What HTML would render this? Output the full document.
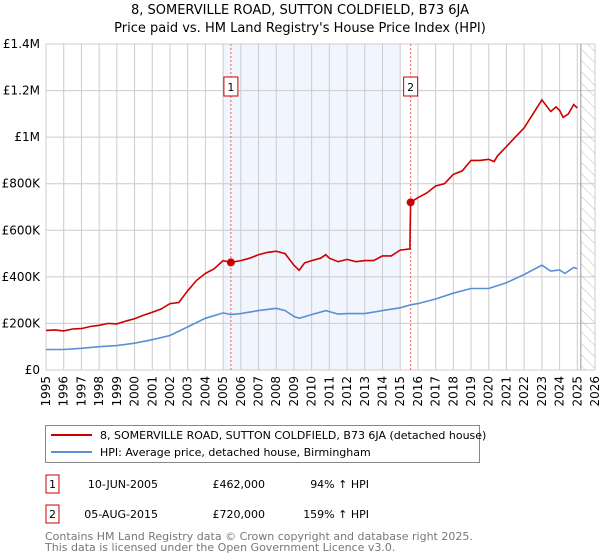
<!DOCTYPE html>
<html><head><meta charset="utf-8"><style>
body{margin:0;background:#fff;font-family:"Liberation Sans","DejaVu Sans",sans-serif;}
svg{display:block}
</style></head><body>
<svg id="c" width="600" height="560" xmlns="http://www.w3.org/2000/svg" font-family="DejaVu Sans, Liberation Sans, sans-serif">
<defs><pattern id="hatch" width="8" height="8" patternUnits="userSpaceOnUse" patternTransform="rotate(-45)"><line x1="0" y1="0" x2="0" y2="8" stroke="#bbb" stroke-width="1"/></pattern></defs>
<text x="300" y="14" text-anchor="middle" font-size="13" fill="#000">8, SOMERVILLE ROAD, SUTTON COLDFIELD, B73 6JA</text>
<text x="300" y="32" text-anchor="middle" font-size="13" fill="#000">Price paid vs. HM Land Registry's House Price Index (HPI)</text>
<g id="plot"></g>
<g>
<rect x="45.5" y="425.5" width="434" height="37" fill="#fff" stroke="#888"/>
<line x1="51" y1="435" x2="92" y2="435" stroke="#cc0000" stroke-width="2"/>
<text x="100" y="439" font-size="11">8, SOMERVILLE ROAD, SUTTON COLDFIELD, B73 6JA (detached house)</text>
<line x1="51" y1="452" x2="92" y2="452" stroke="#5b8fd6" stroke-width="2"/>
<text x="100" y="456" font-size="11">HPI: Average price, detached house, Birmingham</text>
</g>
<g font-size="11">
<rect x="46" y="475" width="13" height="18" fill="#fff" stroke="#cc0000"/>
<text x="52.5" y="488" text-anchor="middle">1</text>
<text x="158" y="488" text-anchor="end">10-JUN-2005</text>
<text x="265" y="488" text-anchor="end">£462,000</text>
<text x="369" y="488" text-anchor="end">94% ↑ HPI</text>
<rect x="46" y="505" width="13" height="18" fill="#fff" stroke="#cc0000"/>
<text x="52.5" y="518" text-anchor="middle">2</text>
<text x="158" y="518" text-anchor="end">05-AUG-2015</text>
<text x="265" y="518" text-anchor="end">£720,000</text>
<text x="369" y="518" text-anchor="end">159% ↑ HPI</text>
</g>
<text x="45" y="540" font-size="11" fill="#777">Contains HM Land Registry data © Crown copyright and database right 2025.</text>
<text x="45" y="551" font-size="11" fill="#777">This data is licensed under the Open Government Licence v3.0.</text>
</svg>
<script>
const yTicks=[0,200,400,600,800,1000,1200,1400];
const yTickLabels=["£0","£200K","£400K","£600K","£800K","£1M","£1.2M","£1.4M"];
const xTicks=[1995,1996,1997,1998,1999,2000,2001,2002,2003,2004,2005,2006,2007,2008,2009,2010,2011,2012,2013,2014,2015,2016,2017,2018,2019,2020,2021,2022,2023,2024,2025,2026];
const redYears=[1995,1995.5,1996,1996.5,1997,1997.5,1998,1998.5,1999,1999.5,2000,2000.5,2001,2001.5,2002,2002.5,2003,2003.5,2004,2004.5,2005,2005.44,2006,2006.5,2007,2007.5,2008,2008.5,2009,2009.3,2009.6,2010,2010.5,2010.8,2011,2011.5,2012,2012.5,2013,2013.5,2014,2014.5,2015,2015.55,2015.59,2016,2016.5,2017,2017.5,2018,2018.5,2019,2019.5,2020,2020.3,2020.5,2021,2021.5,2022,2022.5,2023,2023.5,2023.8,2024,2024.2,2024.5,2024.8,2025];
const redValues=[170,172,168,176,178,187,192,200,198,210,220,235,248,262,285,290,340,385,415,435,470,462,470,480,495,505,510,500,450,428,460,470,480,495,480,465,475,465,470,470,490,490,515,520,720,740,760,790,800,840,855,900,900,905,895,920,960,1000,1040,1100,1160,1110,1130,1115,1085,1100,1140,1125];
const hpiYears=[1995,1996,1997,1998,1999,2000,2001,2002,2003,2004,2005,2005.44,2006,2007,2008,2008.5,2009,2009.3,2010,2010.8,2011.5,2012,2013,2014,2015,2015.59,2016,2017,2018,2019,2020,2021,2022,2023,2023.5,2024,2024.3,2024.8,2025];
const hpiValues=[88,88,93,100,105,115,130,148,185,222,245,238,242,255,265,255,230,222,238,255,240,242,242,255,267,280,285,305,330,350,350,375,410,450,425,430,415,440,435];
const saleYears=[2005.44,2015.59];
const saleValues=[462,720];
const saleLabels=["1","2"];

const NS="http://www.w3.org/2000/svg";
const L=46,R=595,T=44,B=370;
const X=y=>L+(y-1995)*(R-L)/31;
const Y=v=>B-v*(B-T)/1400;
const g=document.getElementById('plot');
function mk(t,a,p){const e=document.createElementNS(NS,t);for(const k in a)e.setAttribute(k,a[k]);(p||g).appendChild(e);return e;}
// shaded region
let sh=mk('rect',{x:X(2005),y:T,width:X(2015)-X(2005),height:B-T,fill:'#eef3fc',opacity:0.8});


// grid
yTicks.forEach((v,i)=>{
  let l=mk('line',{x1:L,x2:R,y1:Y(v),y2:Y(v),stroke:'#ccc'});
  
  
  let t=mk('text',{x:L-6,y:Y(v)+4,'text-anchor':'end','font-size':12});
  
  
  t.textContent=yTickLabels[i];
});
xTicks.forEach(yr=>{
  let l=mk('line',{x1:X(yr),x2:X(yr),y1:T,y2:B,stroke:'#ccc'});
  
  
  let t=mk('text',{x:0,y:0,'text-anchor':'end','font-size':12,transform:`translate(${X(yr)+4},${B+6}) rotate(-90)`});
  
  
  t.textContent=yr;
});
// hatch future
let hz=mk('rect',{x:X(2025.2),y:T,width:R-X(2025.2),height:B-T,fill:'url(#hatch)'});


let hl=mk('line',{x1:X(2025.2),x2:X(2025.2),y1:T,y2:B,stroke:'#999'});


// sale lines
saleYears.forEach((sy,i)=>{
  let l=mk('line',{x1:X(sy),x2:X(sy),y1:T,y2:B,stroke:'#f06060','stroke-dasharray':'2,2'});
  
  
  let r=mk('rect',{x:X(sy)-7,y:77,width:14,height:19,fill:'#fff',stroke:'#cc0000'});
  
  
  let t=mk('text',{x:X(sy),y:91,'text-anchor':'middle','font-size':11});
  
  
  t.textContent=saleLabels[i];
});
const path=(xs,vs)=>xs.map((x,i)=>(i?'L':'M')+X(x).toFixed(1)+','+Y(vs[i]).toFixed(1)).join('');
let hp=mk('path',{d:path(hpiYears,hpiValues),fill:'none',stroke:'#5b8fd6','stroke-width':1.6});


let rp=mk('path',{d:path(redYears,redValues),fill:'none',stroke:'#cc0000','stroke-width':1.6});


saleYears.forEach((sy,i)=>{
  let c=mk('circle',{cx:X(sy),cy:Y(saleValues[i]),r:4,fill:'#cc0000'});
  
  
});
</script>
</body></html>
